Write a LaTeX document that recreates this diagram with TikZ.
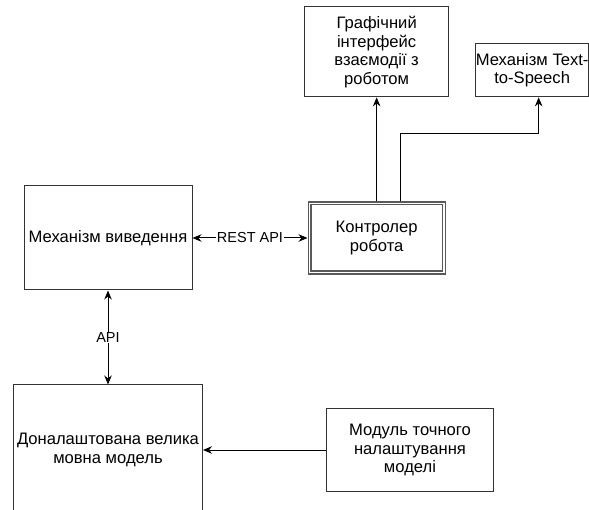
\documentclass[tikz,border=0pt]{standalone}
\usepackage{fontspec}
\setmainfont{Liberation Sans}
\usetikzlibrary{positioning,arrows.meta}

\begin{document}
\begin{tikzpicture}[
    x=1pt, y=1pt,
    box/.style={rectangle, draw=black!80, line width=1pt, align=center, inner xsep=1pt, font=\fontsize{16.6}{18.5}\selectfont},
    ctrlbox/.style={box, draw=black!65, line width=1.3pt},
    arrow/.style={-{Stealth[length=9pt,width=7.5pt]}, line width=1pt},
    twoway/.style={{Stealth[length=9pt,width=7.5pt]}-{Stealth[length=9pt,width=7.5pt]}, line width=1pt},
    edgelabel/.style={fill=white, inner sep=1pt, font=\fontsize{14.5}{16}\selectfont}
]
    \useasboundingbox (0,0) rectangle (589,-510);

    % Main components
    \node[box, minimum width=168pt, minimum height=104pt] (infer) at (108,-238) {Механізм виведення};
    \node[ctrlbox, minimum width=137pt, minimum height=72pt, right=115pt of infer] (ctrl) {Контролер\\робота};
    \draw[draw=black!65, line width=1.3pt] ([shift={(3.5pt,-3.5pt)}]ctrl.north west) rectangle ([shift={(-3.5pt,3.5pt)}]ctrl.south east);
    \node[box, minimum width=144pt, minimum height=90pt, above=104pt of ctrl] (gui) {Графічний\\інтерфейс\\взаємодії з\\роботом};
    \node[box, minimum width=113pt, minimum height=53pt, inner xsep=0pt, anchor=south west] (tts) at ([xshift=26pt]gui.south east) {Механізм Text-\\to-Speech};

    % Model layer
    \node[box, minimum width=189pt, minimum height=130pt, below=94pt of infer] (llm) {Доналаштована велика\\мовна модель};
    \node[box, minimum width=167pt, minimum height=83pt, right=123pt of llm] (tuner) {Модуль точного\\налаштування\\моделі};

    % Arrows
    \draw[twoway] (infer) -- node[edgelabel] {REST API} (ctrl);
    \draw[twoway] (infer.south) -- node[edgelabel] {API} (infer.south |- llm.north);
    \draw[arrow] (ctrl.north) -- (ctrl.north |- gui.south);
    \draw[arrow] ([xshift=24pt]ctrl.north) -- ++(0,68) -| ([xshift=6.5pt]tts.south);
    \draw[arrow] (tuner) -- (llm);
\end{tikzpicture}
\end{document}
